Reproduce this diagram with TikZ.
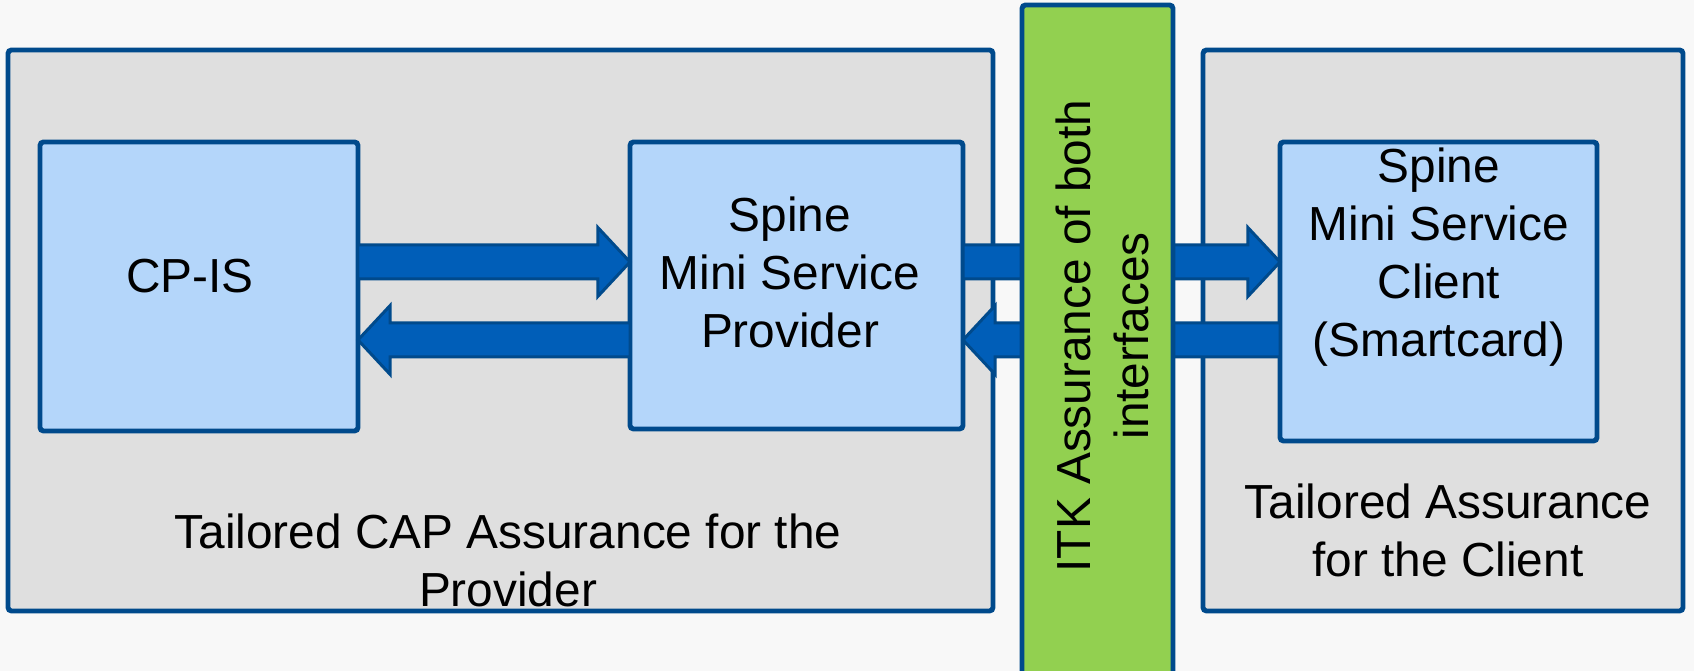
\documentclass[tikz,border=0pt]{standalone}
\usepackage{fontspec}
\setmainfont{Liberation Sans}
\usetikzlibrary{shapes.arrows,calc}
\definecolor{bggray}{RGB}{248,248,248}
\definecolor{areagray}{RGB}{223,223,223}
\definecolor{boxblue}{RGB}{180,214,250}
\definecolor{lineblue}{RGB}{0,74,140}
\definecolor{arrowblue}{RGB}{0,94,184}
\definecolor{itkgreen}{RGB}{146,208,80}
\newcommand{\fatarrow}[3]{\path let \p1=(#2), \p2=(#3), \n1={veclen(\x2-\x1,\y2-\y1)}, \n2={atan2(\y2-\y1,\x2-\x1)} in node[flowArrow, minimum height=\n1, rotate=\n2, anchor=tail] (#1) at (\p1) {};}

\begin{document}
\begin{tikzpicture}
\tikzstyle{areaStyle}=[draw=lineblue, fill=areagray, line width=1.4pt, rounded corners=1pt, inner sep=0pt]
\tikzstyle{boxStyle}=[draw=lineblue, fill=boxblue, line width=1.4pt, rounded corners=1pt, inner sep=0pt, outer sep=0pt]
\tikzstyle{barStyle}=[draw=lineblue, fill=itkgreen, line width=1.4pt, rounded corners=1pt, inner sep=0pt]
\tikzstyle{textStyle}=[align=center, font=\fontsize{13.6}{16.5}\selectfont, inner sep=0pt]
\tikzstyle{flowArrow}=[single arrow, draw=lineblue, fill=arrowblue, line width=0.85pt, inner xsep=0pt, inner ysep=0.155cm, outer sep=0pt, single arrow head extend=0.175cm, single arrow tip angle=94, text height=0pt, text depth=0pt]
\fill[bggray] (0,0) rectangle (16.94,6.71);
\useasboundingbox (0,0) rectangle (16.94,6.71);
\node[areaStyle, minimum width=9.85cm, minimum height=5.61cm] (provarea) at (5.005,3.405) {};
\node[areaStyle, minimum width=4.80cm, minimum height=5.61cm] (clientarea) at (14.43,3.405) {};
\node[boxStyle, minimum width=3.18cm, minimum height=2.89cm] (cpis) at (1.99,3.845) {};
\node[boxStyle, minimum width=3.33cm, minimum height=2.87cm] (provider) at (7.965,3.855) {};
\node[boxStyle, minimum width=3.17cm, minimum height=2.99cm] (client) at (14.385,3.795) {};
\node[textStyle] (cpistext) at (1.90,3.95) {CP-IS};
\node[textStyle] (providertext) at (7.90,3.99) {Spine\\Mini Service\\Provider};
\node[textStyle] (clienttext) at (14.39,4.14) {Spine\\Mini Service\\Client\\(Smartcard)};
\node[textStyle] (provareatext) at (5.08,1.11) {Tailored CAP Assurance for the\\Provider};
\node[textStyle] (clientareatext) at (14.48,1.41) {Tailored Assurance\\for the Client};
\fatarrow{a1}{cpis.east |- 0,4.09}{provider.west |- 0,4.09}
\fatarrow{a2}{provider.west |- 0,3.31}{cpis.east |- 0,3.31}
\fatarrow{a3}{provider.east |- 0,4.09}{client.west |- 0,4.09}
\fatarrow{a4}{client.west |- 0,3.31}{provider.east |- 0,3.31}
\node[barStyle, minimum width=1.51cm, minimum height=6.86cm] (itkbar) at (10.975,3.23) {};
\node[textStyle, rotate=90] (itktext) at (11.02,3.35) {ITK Assurance of both\\interfaces};
\end{tikzpicture}
\end{document}
